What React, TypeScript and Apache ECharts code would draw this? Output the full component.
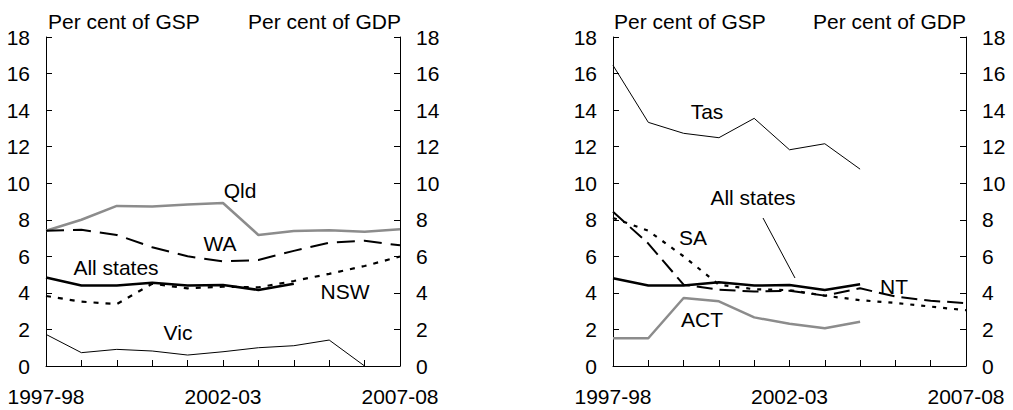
import React, { useEffect, useRef } from 'react';
import * as echarts from 'echarts';

const years = ['1997-98', '1998-99', '1999-00', '2000-01', '2001-02', '2002-03', '2003-04', '2004-05', '2005-06', '2006-07', '2007-08'];

// Left panel
const qld = [7.4, 8.0, 8.76, 8.72, 8.83, 8.92, 7.17, 7.39, 7.43, 7.35, 7.48];
const wa = [7.4, 7.45, 7.17, 6.5, 6.0, 5.72, 5.8, 6.3, 6.75, 6.85, 6.6];
const allStatesLeft = [4.84, 4.4, 4.4, 4.56, 4.4, 4.43, 4.16, 4.5, null, null, null];
const nsw = [3.83, 3.52, 3.39, 4.5, 4.25, 4.34, 4.3, 4.65, 5.04, 5.47, 5.99];
const vic = [1.73, 0.73, 0.91, 0.82, 0.6, 0.78, 1.0, 1.11, 1.42, 0, null];

// Right panel
const tas = [16.45, 13.33, 12.73, 12.49, 13.55, 11.83, 12.16, 10.77, null, null, null];
const allStatesRight = [4.8, 4.4, 4.4, 4.58, 4.4, 4.43, 4.16, 4.47, null, null, null];
const nt = [8.44, 6.7, 4.45, 4.18, 4.07, 4.12, 3.85, 4.25, 3.8, 3.57, 3.44];
const sa = [8.1, 7.4, 6.0, 4.45, 4.2, 4.15, 3.85, 3.6, 3.45, 3.25, 3.05];
const act = [1.52, 1.52, 3.72, 3.54, 2.66, 2.31, 2.07, 2.42, null, null, null];

const yMin = 0;
const yMax = 18;
const yStep = 2;

const FONT = 'Liberation Sans, Arial, sans-serif';
const FS = 21;
const GREY = '#8c8c8c';

export default function App() {
  const ref = useRef<HTMLDivElement>(null);

  useEffect(() => {
    if (!ref.current) return;
    const chart = echarts.init(ref.current, undefined, { renderer: 'svg' });

    const xAxisBase = (gridIndex: number) => ({
      type: 'category',
      gridIndex,
      data: years,
      boundaryGap: false,
      axisLine: { show: true, lineStyle: { color: '#000', width: 1 } },
      axisTick: { show: true, inside: true, length: 6, interval: 0, lineStyle: { color: '#000' } },
      axisLabel: { interval: 4, color: '#000', fontSize: FS, fontFamily: FONT, margin: 20 },
      splitLine: { show: false },
    });
    const yAxisBase = (gridIndex: number, position: 'left' | 'right') => ({
      type: 'value',
      gridIndex,
      position,
      min: yMin,
      max: yMax,
      interval: yStep,
      axisLine: { show: true, lineStyle: { color: '#000', width: 1 } },
      axisTick: { show: true, inside: true, length: 6, lineStyle: { color: '#000' } },
      axisLabel: { color: '#000', fontSize: FS, fontFamily: FONT, margin: 16 },
      splitLine: { show: false },
    });

    const line = (name: string, data: (number | null)[], xi: number, yi: number, style: any, z = 2) => ({
      name,
      type: 'line',
      xAxisIndex: xi,
      yAxisIndex: yi,
      data,
      symbol: 'none',
      connectNulls: false,
      lineStyle: style,
      z,
    });

    const txt = (text: string, x: number, y: number) => ({
      type: 'text',
      x,
      y,
      style: { text, fill: '#000', fontSize: FS, fontFamily: FONT, textAlign: 'center', textVerticalAlign: 'middle' },
      z: 10,
    });

    chart.setOption({
      animation: false,
      backgroundColor: '#fff',
      grid: [
        { left: 46, right: 613, top: 37, bottom: 44 },
        { left: 613, right: 47, top: 37, bottom: 44 },
      ],
      xAxis: [xAxisBase(0), xAxisBase(1)],
      yAxis: [
        yAxisBase(0, 'left'),
        yAxisBase(0, 'right'),
        yAxisBase(1, 'left'),
        yAxisBase(1, 'right'),
      ],
      series: [
        line('Qld', qld, 0, 0, { color: GREY, width: 2.5 }, 3),
        line('WA', wa, 0, 0, { color: '#000', width: 2, type: [18, 9] }, 3),
        line('All states', allStatesLeft, 0, 0, { color: '#000', width: 2.5 }, 4),
        line('NSW', nsw, 0, 0, { color: '#000', width: 2.2, type: [5, 7] }, 3),
        line('Vic', vic, 0, 0, { color: '#000', width: 1 }, 3),
        line('Tas', tas, 1, 2, { color: '#000', width: 1 }, 3),
        line('All states', allStatesRight, 1, 2, { color: '#000', width: 2.5 }, 4),
        line('NT', nt, 1, 2, { color: '#000', width: 2, type: [16, 7] }, 3),
        line('SA', sa, 1, 2, { color: '#000', width: 2.2, type: [4, 7] }, 3),
        line('ACT', act, 1, 2, { color: GREY, width: 2.5 }, 3),
      ],
      graphic: [
        { type: 'text', x: 48, y: 21, style: { text: 'Per cent of GSP', fill: '#000', fontSize: FS, fontFamily: FONT, textAlign: 'left', textVerticalAlign: 'middle' } },
        { type: 'text', x: 401, y: 21, style: { text: 'Per cent of GDP', fill: '#000', fontSize: FS, fontFamily: FONT, textAlign: 'right', textVerticalAlign: 'middle' } },
        { type: 'text', x: 614, y: 21, style: { text: 'Per cent of GSP', fill: '#000', fontSize: FS, fontFamily: FONT, textAlign: 'left', textVerticalAlign: 'middle' } },
        { type: 'text', x: 966, y: 21, style: { text: 'Per cent of GDP', fill: '#000', fontSize: FS, fontFamily: FONT, textAlign: 'right', textVerticalAlign: 'middle' } },
        txt('Qld', 240, 190),
        txt('WA', 220, 243),
        txt('All states', 116, 267),
        txt('NSW', 345, 291),
        txt('Vic', 178, 332),
        txt('Tas', 707, 111),
        txt('All states', 753, 197),
        txt('SA', 693, 237),
        txt('NT', 894, 286),
        txt('ACT', 702, 319),
        { type: 'line', shape: { x1: 763, y1: 218, x2: 795, y2: 278 }, style: { stroke: '#000', lineWidth: 1 }, z: 10 },
      ],
    });

    return () => chart.dispose();
  }, []);

  return <div ref={ref} style={{ position: 'absolute', left: 0, top: 0, width: 1013, height: 410 }} />;
}
